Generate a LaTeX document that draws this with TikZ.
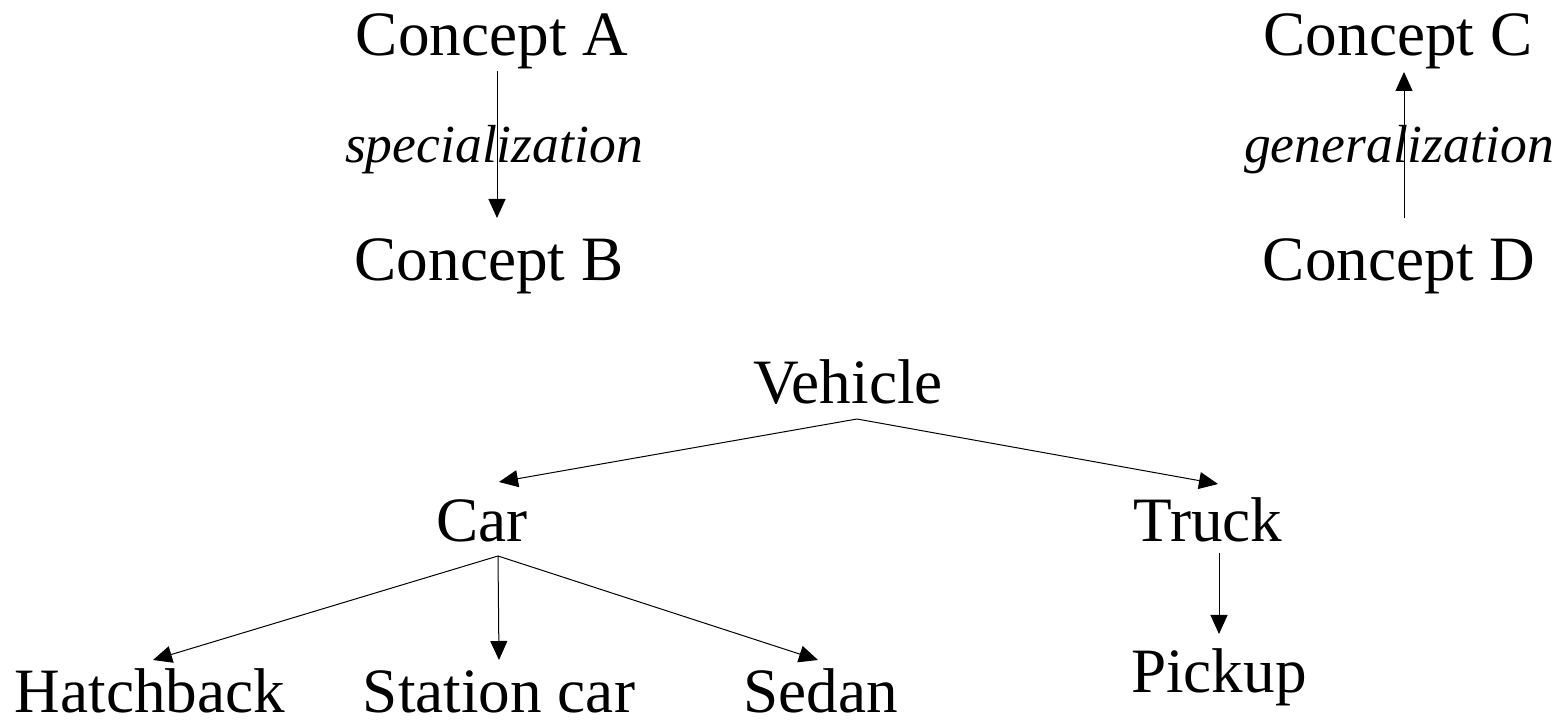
\documentclass[tikz,border=0pt]{standalone}
\usepackage{fontspec}
\setmainfont{Liberation Serif}
\usetikzlibrary{arrows.meta,calc}
\tikzset{
  lbl/.style={anchor=base,inner sep=0pt,font=\fontsize{31.6}{36}\selectfont},
  ital/.style={anchor=base,inner sep=0pt,font=\fontsize{26.8}{32}\selectfont\itshape},
  arr/.style={line width=0.5pt,-{Triangle[width=8.5pt,length=9.5pt]}}
}
\begin{document}
\begin{tikzpicture}[x=0.5pt,y=-0.5pt]
\useasboundingbox (0,0) rectangle (1560,726);
% top-left
\node[lbl] (ca) at (492,56) {Concept A};
\node[lbl] (cb) at (489,281) {Concept B};
\node[ital] (sp) at (494,163) {specialization};
\draw[arr] ($(ca.base)+(5,15)$) -- ($(cb.base)+(8,-63)$);
% top-right
\node[lbl] (cc) at (1398,56) {Concept C};
\node[lbl] (cd) at (1399,281) {Concept D};
\node[ital] (ge) at (1399,163) {generalization};
\draw[arr] ($(cd.base)+(5,-63)$) -- ($(cc.base)+(6,16)$);
% tree
\node[lbl] (veh) at (848,404) {Vehicle};
\node[lbl] (car) at (482,542) {Car};
\node[lbl] (truck) at (1208,542) {Truck};
\node[lbl] (pickup) at (1219,693) {Pickup};
\node[lbl] (hb) at (150,713) {Hatchback};
\node[lbl] (st) at (499,713) {Station car};
\node[lbl] (sed) at (821,713) {Sedan};
\draw[arr] ($(veh.base)+(9,15)$) -- ($(car.base)+(17,-60)$);
\draw[arr] ($(veh.base)+(9,15)$) -- ($(truck.base)+(10,-58)$);
\draw[arr] ($(car.base)+(16,14)$) -- ($(hb.base)+(3,-53)$);
\draw[arr] ($(car.base)+(16,14)$) -- ($(st.base)+(0,-53)$);
\draw[arr] ($(car.base)+(16,14)$) -- ($(sed.base)+(-3,-53)$);
\draw[arr] ($(truck.base)+(11,11)$) -- ($(pickup.base)+(0,-59)$);
\end{tikzpicture}
\end{document}
